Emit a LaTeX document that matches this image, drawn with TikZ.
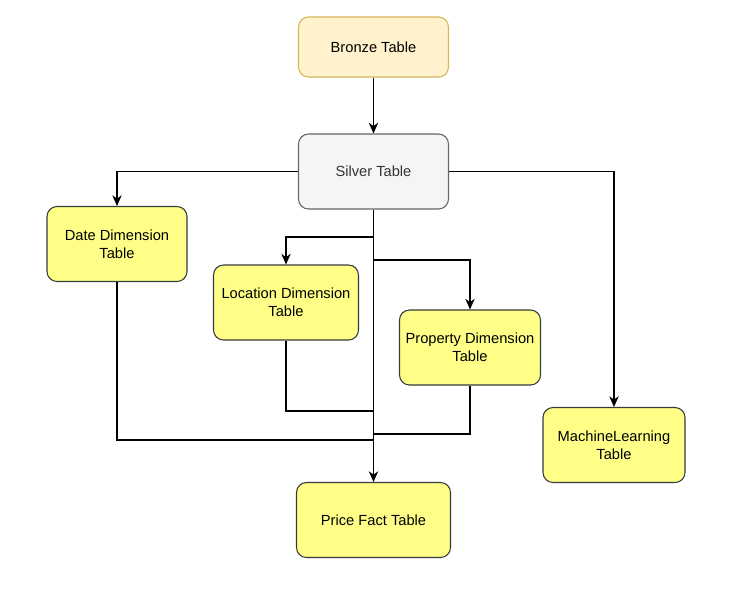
\documentclass[tikz,border=0pt]{standalone}
\usepackage{fontspec}
\setmainfont{Liberation Sans}
\usepackage{xcolor}
\usepackage{tikz}
\usetikzlibrary{arrows.meta}

\definecolor{bronzefill}{HTML}{FFF2CC}
\definecolor{bronzeline}{HTML}{D6B656}
\definecolor{silverfill}{HTML}{F5F5F5}
\definecolor{silverline}{HTML}{666666}
\definecolor{silvertext}{HTML}{333333}
\definecolor{tablefill}{HTML}{FFFF88}
\definecolor{tableline}{HTML}{36393D}

\begin{document}
\begin{tikzpicture}[x=0.75pt,y=-0.75pt,
    every node/.style={font=\fontsize{11}{13.3}\selectfont, align=center},
    tbl/.style={draw=tableline, fill=tablefill, line width=0.8pt, rounded corners=7.5pt,
        minimum height=56.25pt, inner sep=2pt},
    link/.style={line width=0.9pt},
    arrow/.style={link, -{Stealth[length=8pt,width=7pt,inset=2.5pt]}}]
\useasboundingbox (0,0) rectangle (743,590);

    \node[tbl, draw=bronzeline, fill=bronzefill, minimum width=112.5pt, minimum height=45pt]
        (bronze) at (373.5,47) {Bronze Table};
    \node[tbl, draw=silverline, fill=silverfill, text=silvertext, minimum width=112.5pt]
        (silver) at (373.5,171.5) {Silver Table};

    \node[tbl, minimum width=105pt] (date) at (117,244) {Date Dimension\\Table};
    \node[tbl, minimum width=108.75pt] (loc) at (286,302.5) {Location Dimension\\Table};
    \node[tbl, minimum width=105.75pt] (prop) at (470,347.5) {Property Dimension\\Table};
    \node[tbl, minimum width=106.5pt] (ml) at (614,445) {MachineLearning\\Table};
    \node[tbl, minimum width=115.5pt] (price) at (373.5,520) {Price Fact Table};

    \coordinate (locsplit) at (373.5,237);
    \coordinate (propsplit) at (373.5,260);
    \coordinate (locjoin) at (373.5,411);
    \coordinate (propjoin) at (373.5,434);
    \coordinate (datejoin) at (373.5,440);

    % draw the arrows
    \draw[arrow] (bronze) -- (silver);
    \draw[arrow] (silver.west) -| (date.north);
    \draw[arrow] (silver.east) -| (ml.north);
    \draw[arrow] (locsplit) -| (loc.north);
    \draw[arrow] (propsplit) -| (prop.north);
    \draw[arrow] (silver) -- (price);

    \draw[link] (date.south) |- (datejoin);
    \draw[link] (loc.south) |- (locjoin);
    \draw[link] (prop.south) |- (propjoin);

\end{tikzpicture}
\end{document}
